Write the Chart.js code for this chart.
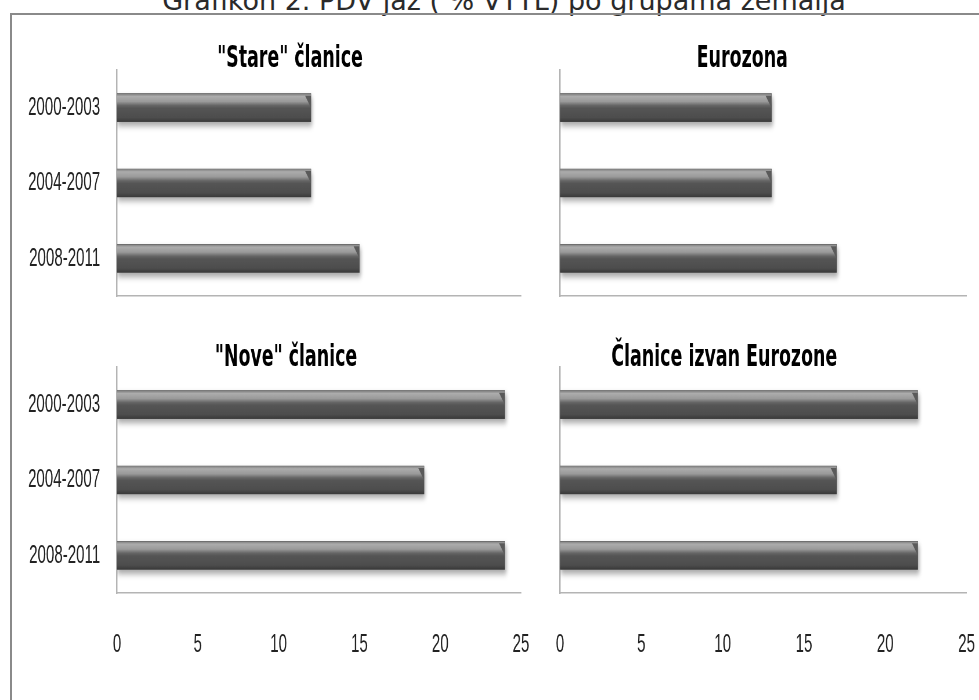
<!DOCTYPE html>
<html>
<head>
<meta charset="utf-8">
<script src="https://cdn.jsdelivr.net/npm/chart.js@4.4.1/dist/chart.umd.min.js"></script>
<style>
  html, body { margin: 0; padding: 0; background: #fff; overflow: hidden; }
  body { width: 979px; height: 700px; position: relative; }
  #frame { position: absolute; left: 10px; top: 13px; width: 1100px; height: 800px;
           border-top: 2px solid #8a8a8a; border-left: 2px solid #8a8a8a; }
  #mainTitle { position: absolute; left: 0; top: -13px; width: 1008px; text-align: center;
               font: 27px/27px "DejaVu Sans", sans-serif; color: #2a2a2a; white-space: nowrap; }
  .panel { position: absolute; transform-origin: 0 0; }
</style>
</head>
<body>
<div id="mainTitle">Grafikon 2. PDV jaz ( % VTTL) po grupama zemalja</div>
<div id="frame"></div>
<div class="panel" id="p1"><canvas id="c1"></canvas></div>
<div class="panel" id="p2"><canvas id="c2"></canvas></div>
<div class="panel" id="p3"><canvas id="c3"></canvas></div>
<div class="panel" id="p4"><canvas id="c4"></canvas></div>
<script>
// podaci
var categories = ['2000-2003', '2004-2007', '2008-2011'];
var stareClanice = [12, 12, 15];
var eurozona = [13, 13, 17];
var noveClanice = [24, 19, 24];
var izvanEurozone = [22, 17, 22];
var xMin = 0, xMax = 25, xStep = 5;
var panelTitles = ['"Stare" članice', 'Eurozona', '"Nove" članice', 'Članice izvan Eurozone'];

var squeeze = 0.58; // fontovi su u originalu jako suženi

// sjena + sjaj na stupcima
var barShine = {
  id: 'barShine',
  beforeDatasetsDraw: function (chart) {
    var ctx = chart.ctx;
    ctx.save();
    ctx.shadowColor = 'rgba(0,0,0,0.35)';
    ctx.shadowBlur = 6;
    ctx.shadowOffsetX = 2;
    ctx.shadowOffsetY = 4;
  },
  afterDatasetsDraw: function (chart) {
    var ctx = chart.ctx;
    ctx.restore();
    var meta = chart.getDatasetMeta(0);
    meta.data.forEach(function (bar) {
      var p = bar.getProps(['x', 'y', 'base', 'height'], true);
      var top = p.y - p.height / 2, h = p.height;
      var left = p.base, right = p.x;
      var g = ctx.createLinearGradient(0, top, 0, top + h);
      g.addColorStop(0, '#7c7c7c');
      g.addColorStop(0.1, '#acacac');
      g.addColorStop(0.28, '#9a9a9a');
      g.addColorStop(0.42, '#666666');
      g.addColorStop(0.52, '#555555');
      g.addColorStop(0.85, '#4d4d4d');
      g.addColorStop(1, '#3a3a3a');
      ctx.save();
      ctx.fillStyle = g;
      ctx.fillRect(left, top, right - left, h);
      var bw = 10;
      ctx.fillStyle = '#5a5a5a';
      ctx.beginPath();
      ctx.moveTo(right - bw, top + 2);
      ctx.lineTo(right, top + 2);
      ctx.lineTo(right, top + h * 0.5);
      ctx.closePath();
      ctx.fill();
      ctx.restore();
    });
  }
};

// naslov panela - u Excelu nije centriran nad osi
var panelTitle = {
  id: 'panelTitle',
  afterDraw: function (chart, args, opts) {
    var ctx = chart.ctx;
    ctx.save();
    ctx.font = 'bold 30px "DejaVu Sans"';
    ctx.fillStyle = '#000';
    ctx.textAlign = 'center';
    ctx.textBaseline = 'middle';
    ctx.fillText(opts.text, opts.x, opts.y);
    ctx.restore();
  }
};

function makePanel(n, data, title, box) {
  var div = document.getElementById('p' + n);
  div.style.left = box.left + 'px';
  div.style.top = box.top + 'px';
  div.style.width = (box.width / squeeze) + 'px';
  div.style.height = box.height + 'px';
  div.style.transform = 'scaleX(' + squeeze + ')';

  var config = {
    type: 'bar',
    data: {
      labels: categories,
      datasets: [{
        data: data,
        backgroundColor: '#505050',
        borderWidth: 0,
        barThickness: 28
      }]
    },
    options: {
      indexAxis: 'y',
      responsive: true,
      maintainAspectRatio: false,
      animation: false,
      layout: { padding: { left: 0, top: box.padTop, bottom: 0, right: box.padRight / squeeze } },
      plugins: {
        legend: { display: false },
        tooltip: { enabled: false },
        title: { display: false },
        panelTitle: {
          text: title,
          x: (box.titleX - box.left) / squeeze,
          y: box.titleY - box.top
        }
      },
      scales: {
        x: {
          min: xMin,
          max: xMax,
          grid: { display: false, drawTicks: true, tickLength: 36 },
          border: { display: true, color: '#b4b4b4', width: 1.5 },
          ticks: {
            display: box.showX,
            stepSize: xStep,
            padding: 0,
            color: '#222',
            font: { family: 'Liberation Sans', size: 26 }
          },
          afterFit: function (scale) { scale.height = box.xHeight; }
        },
        y: {
          grid: { display: false, drawTicks: true, tickLength: 29 },
          border: { display: true, color: '#b4b4b4', width: 2.5 },
          ticks: {
            display: box.showY,
            padding: 0,
            color: '#222',
            font: { family: 'Liberation Sans', size: 26 }
          },
          afterFit: function (scale) { scale.width = box.yWidth / squeeze; }
        }
      }
    },
    plugins: [barShine, panelTitle]
  };
  return new Chart(document.getElementById('c' + n).getContext('2d'), config);
}

// lijevi stupac: os na x=117, desni: os na x=560
makePanel(1, stareClanice, panelTitles[0],
  { left: 0, top: 30, width: 540, height: 282, padTop: 40, padRight: 19, yWidth: 117, xHeight: 16,
    titleX: 290, titleY: 59, showX: false, showY: true });
makePanel(2, eurozona, panelTitles[1],
  { left: 540, top: 30, width: 439, height: 282, padTop: 40, padRight: 13, yWidth: 20, xHeight: 16,
    titleX: 742, titleY: 59, showX: false, showY: false });
makePanel(3, noveClanice, panelTitles[2],
  { left: 0, top: 330, width: 540, height: 340, padTop: 37, padRight: 19, yWidth: 117, xHeight: 77,
    titleX: 286, titleY: 358, showX: true, showY: true });
makePanel(4, izvanEurozone, panelTitles[3],
  { left: 540, top: 330, width: 439, height: 340, padTop: 37, padRight: 13, yWidth: 20, xHeight: 77,
    titleX: 724, titleY: 358, showX: true, showY: false });
</script>
</body>
</html>
